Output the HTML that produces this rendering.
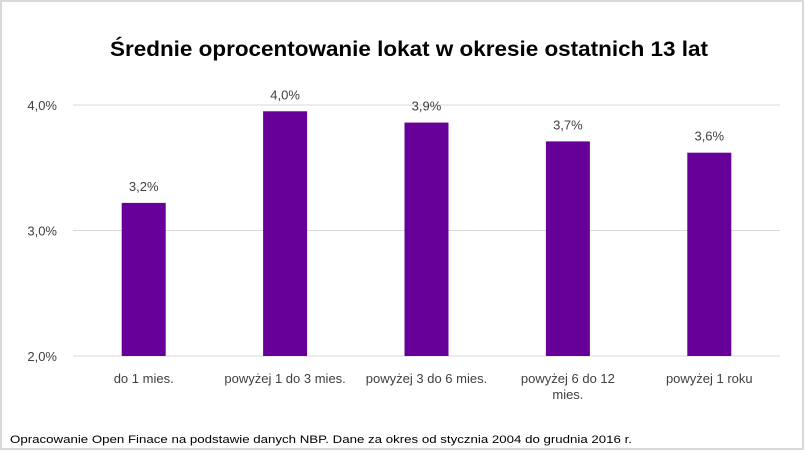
<!DOCTYPE html>
<html><head><meta charset="utf-8"><style>
body{margin:0;background:#fff;}
svg{display:block;font-family:"Liberation Sans",sans-serif;}
</style></head><body>
<svg width="805" height="451">
<rect x="1" y="1" width="802" height="448" fill="#fff" stroke="#d9d9d9" stroke-width="2"/>
<text x="110" y="56" font-size="21" font-weight="bold" fill="#000" textLength="598" lengthAdjust="spacingAndGlyphs">Średnie oprocentowanie lokat w okresie ostatnich 13 lat</text>
<g id="grid"></g><g id="bars"></g><g id="labels"></g>
<text x="10" y="443" font-size="11" fill="#000" textLength="622" lengthAdjust="spacingAndGlyphs">Opracowanie Open Finace na podstawie danych NBP. Dane za okres od stycznia 2004 do grudnia 2016 r.</text>
</svg>
<script>
const categories=["do 1 mies.","powyżej 1 do 3 mies.","powyżej 3 do 6 mies.","powyżej 6 do 12|mies.","powyżej 1 roku"];
const values=[3.22,3.95,3.86,3.71,3.62];
const valueLabels=["3,2%","4,0%","3,9%","3,7%","3,6%"];
const ticks=[2,3,4];
const tickLabels=["2,0%","3,0%","4,0%"];
const NS="http://www.w3.org/2000/svg";
const L=73,R=780,Y0=356,Y1=105,vmin=2,vmax=4;
const y=v=>Y0-(v-vmin)/(vmax-vmin)*(Y0-Y1);
const bw=(R-L)/categories.length;
const xc=i=>L+bw*(i+0.5);
function mk(tag,attrs,parent,txt){const e=document.createElementNS(NS,tag);for(const k in attrs)e.setAttribute(k,attrs[k]);if(txt!==undefined)e.textContent=txt;document.getElementById(parent).appendChild(e);return e;}
ticks.forEach((t,i)=>{
 const g=mk("line",{x1:L,x2:R,y1:y(t),y2:y(t),stroke:"#d9d9d9","stroke-width":1},"grid");
 
 
 const tl=mk("text",{x:57,y:y(t)+5,"text-anchor":"end","font-size":13,fill:"#404040"},"grid",tickLabels[i]);
 
 
});
values.forEach((v,i)=>{
 const b=mk("rect",{x:xc(i)-22,y:y(v),width:44,height:Y0-y(v),fill:"#660099"},"bars");
 
 
 const vl=mk("text",{x:xc(i),y:y(v)-12,"text-anchor":"middle","font-size":13,fill:"#404040"},"labels",valueLabels[i]);
 
 
 categories[i].split("|").forEach((line,j)=>{
  const cl=mk("text",{x:xc(i),y:383+j*16,"text-anchor":"middle","font-size":13,fill:"#404040"},"labels",line);
  
  
 });
});
</script>
</body></html>
